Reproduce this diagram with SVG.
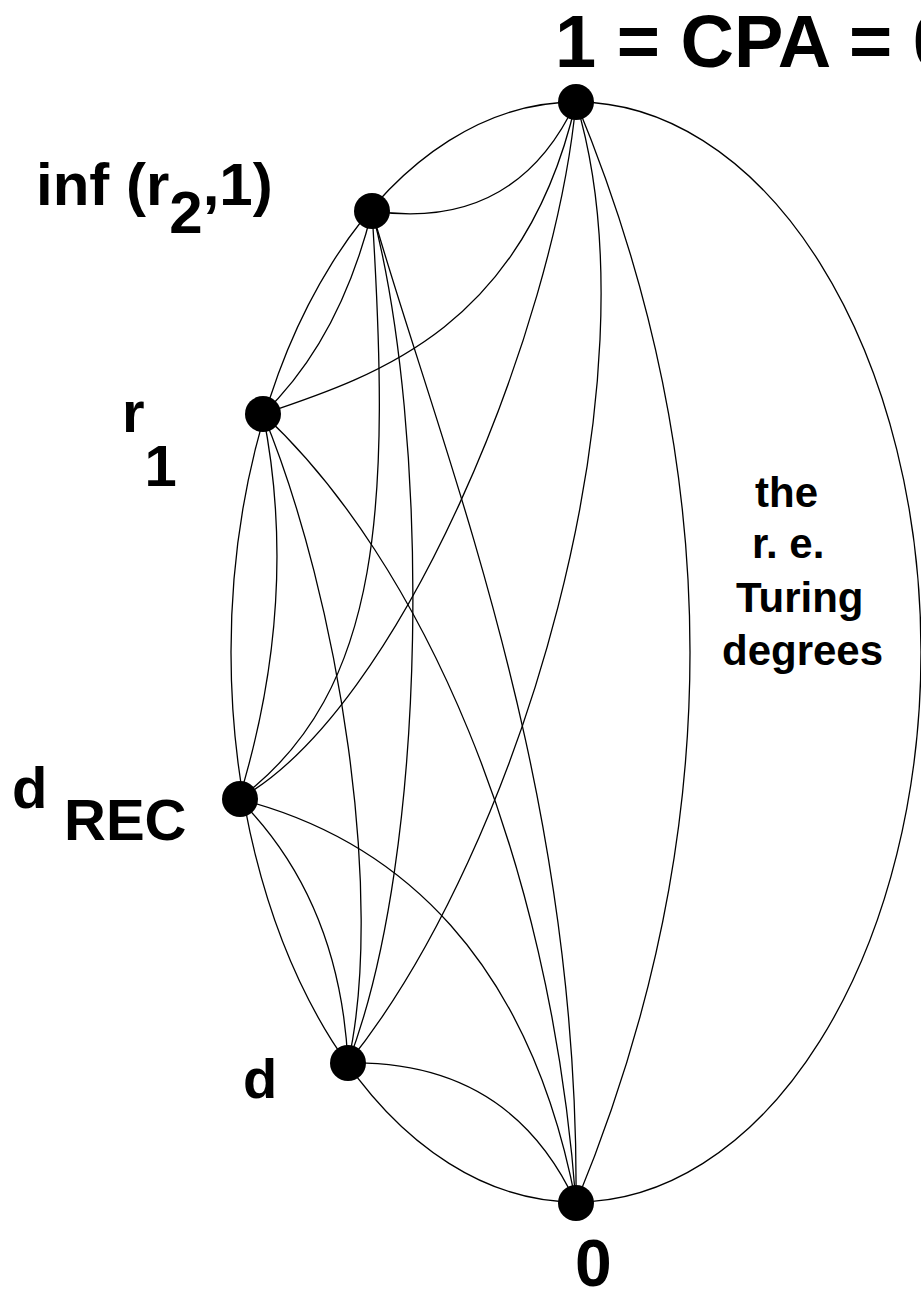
<svg xmlns="http://www.w3.org/2000/svg" width="921" height="1293" viewBox="0 0 921 1293">
<style>
.e{fill:none;stroke:#000;stroke-width:1.3}
.n{fill:#000}
.t{font-family:"Liberation Sans",Arial,sans-serif;font-weight:bold;fill:#000}
</style>
<rect width="921" height="1293" fill="#fff"/>
<g id="connectors">
<ellipse class="e" cx="576" cy="652" rx="345" ry="550"/>
<path class="e" d="M372,211 Q515,232 576,102"/>
<path class="e" d="M263,414 C380,375 525,325 576,102"/>
<path class="e" d="M576,102 C555,330 400,710 239,799"/>
<path class="e" d="M576,102 C660,380 520,850 348,1063"/>
<path class="e" d="M576,102 Q804,652 576,1203"/>
<path class="e" d="M372,211 Q340,340 263,414"/>
<path class="e" d="M372,211 C390,500 385,690 239,799"/>
<path class="e" d="M372,211 C430,430 430,850 348,1063"/>
<path class="e" d="M372,211 C440,450 580,780 576,1203"/>
<path class="e" d="M263,414 Q300,600 239,799"/>
<path class="e" d="M263,414 C340,600 385,900 348,1063"/>
<path class="e" d="M263,414 C420,560 550,850 576,1203"/>
<path class="e" d="M239,799 Q340,900 348,1063"/>
<path class="e" d="M239,799 C400,840 530,960 576,1203"/>
<path class="e" d="M348,1063 Q510,1060 576,1203"/>
</g>
<g id="node-1"><circle class="n" cx="576" cy="102" r="18"/><text class="t" x="555" y="67" font-size="74">1 = CPA = 0'</text></g>
<g id="node-inf"><circle class="n" cx="372" cy="211" r="18"/><text class="t" x="36" y="205" font-size="60">inf (r<tspan dy="28">2</tspan><tspan dy="-28">,1)</tspan></text></g>
<g id="node-r1"><circle class="n" cx="263" cy="414" r="18"/><text class="t" x="122" y="432" font-size="58">r<tspan dy="54">1</tspan></text></g>
<g id="node-dREC"><circle class="n" cx="240" cy="799" r="18"/><text class="t" x="12" y="808" font-size="58">d</text><text class="t" x="64" y="840" font-size="58">REC</text></g>
<g id="node-d"><circle class="n" cx="348" cy="1063" r="18"/><text class="t" x="243" y="1098" font-size="56">d</text></g>
<g id="node-0"><circle class="n" cx="576" cy="1203" r="18"/><text class="t" x="575" y="1286" font-size="66">0</text></g>
<g id="label-re"><text class="t" font-size="42"><tspan x="755" y="507">the</tspan><tspan x="752" y="558">r. e.</tspan><tspan x="736" y="612">Turing</tspan><tspan x="722" y="665">degrees</tspan></text></g>
</svg>
